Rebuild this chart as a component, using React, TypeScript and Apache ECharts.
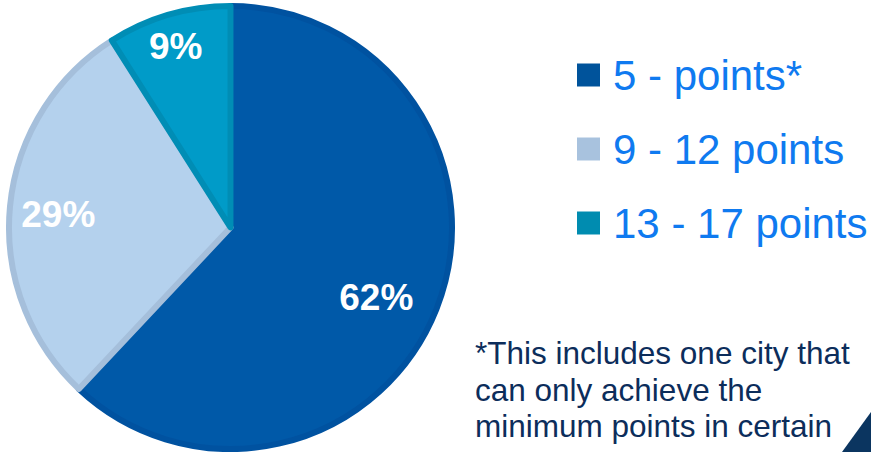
import React, { useEffect, useRef } from "react";
import * as echarts from "echarts";

const categories = ["5 - points*", "9 - 12 points", "13 - 17 points"];
const values = [62, 29, 9];
const fillColors = ["#0059a8", "#b4d1ed", "#009bc8"];
const borderColors = ["#0052a0", "#a5bfdb", "#008db5"];
const legendColors = ["#00539b", "#a8c2de", "#008cb0"];
const footnoteLines = [
  "*This includes one city that",
  "can only achieve the",
  "minimum points in certain",
];
const labelShift = [
  [40, 28],
  [-59, -2],
  [-23, -72],
];

export default function App() {
  const ref = useRef<HTMLDivElement>(null);
  useEffect(() => {
    if (!ref.current) return;
    const chart = echarts.init(ref.current, null, { renderer: "svg" });
    const font = "'Liberation Sans', Arial, sans-serif";
    chart.setOption({
      animation: false,
      backgroundColor: "#ffffff",
      legend: {
        orient: "vertical",
        left: 577,
        top: 54,
        padding: 0,
        itemWidth: 23,
        itemHeight: 23,
        itemGap: 32,
        icon: "rect",
        selectedMode: false,
        data: categories.map((c, i) => ({
          name: c,
          itemStyle: { color: legendColors[i], borderWidth: 0 },
        })),
        textStyle: {
          color: "#0f7af0",
          fontSize: 42,
          lineHeight: 40,
          fontFamily: font,
          padding: [0, 0, 0, 8],
        },
      },
      graphic: [
        ...footnoteLines.map((t, i) => ({
          type: "text",
          left: 475,
          top: 337 + i * 36.5,
          style: {
            text: t,
            fill: "#0c2d5b",
            font: `31.5px ${font}`,
          },
        })),
        {
          type: "polygon",
          shape: {
            points: [
              [871, 412],
              [871, 452],
              [842, 452],
            ],
          },
          style: { fill: "#0b3560" },
        },
      ],
      series: [
        {
          type: "pie",
          center: [230.5, 227.5],
          radius: 221.5,
          startAngle: 90,
          clockwise: true,
          silent: true,
          label: {
            show: true,
            position: "inside",
            formatter: "{c}%",
            color: "#ffffff",
            fontSize: 37,
            fontWeight: "bold",
            fontFamily: font,
          },
          labelLine: { show: false },
          labelLayout: (p: any) => ({
            dx: labelShift[p.dataIndex][0],
            dy: labelShift[p.dataIndex][1],
          }),
          data: categories.map((c, i) => ({
            name: c,
            value: values[i],
            itemStyle: {
              color: fillColors[i],
              borderColor: borderColors[i],
              borderWidth: 6,
            },
          })),
        },
      ],
    });
    return () => chart.dispose();
  }, []);
  return (
    <div
      ref={ref}
      style={{ position: "fixed", left: 0, top: 0, width: 871, height: 452 }}
    />
  );
}
